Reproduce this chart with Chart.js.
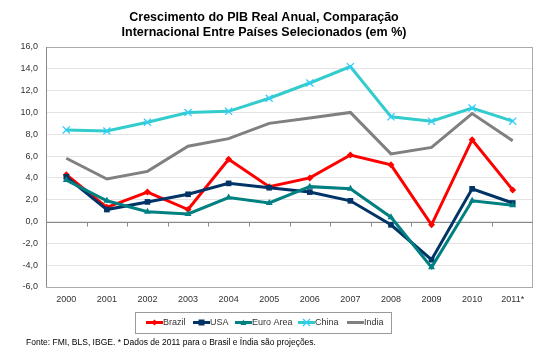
<!DOCTYPE html>
<html>
<head>
<meta charset="utf-8">
<script src="https://cdn.jsdelivr.net/npm/chart.js@4/dist/chart.umd.min.js"></script>
<style>
  html, body { margin: 0; padding: 0; background: #fff; }
  #wrap { position: relative; width: 550px; height: 360px; }
</style>
</head>
<body>
<div id="wrap"><canvas id="gdpChart" width="550" height="360"></canvas></div>
<script>
// data (real GDP growth, %)
const years = ['2000', '2001', '2002', '2003', '2004', '2005', '2006', '2007', '2008', '2009', '2010', '2011*'];
const brazil = [4.3, 1.3, 2.7, 1.1, 5.7, 3.2, 4.0, 6.1, 5.2, -0.3, 7.5, 2.9];
const usa = [4.1, 1.1, 1.8, 2.5, 3.5, 3.1, 2.7, 1.9, -0.3, -3.5, 3.0, 1.7];
const euroArea = [3.8, 1.9, 0.9, 0.7, 2.2, 1.7, 3.2, 3.0, 0.4, -4.2, 1.9, 1.5];
const china = [8.4, 8.3, 9.1, 10.0, 10.1, 11.3, 12.7, 14.2, 9.6, 9.2, 10.4, 9.2];
const india = [5.8, 3.9, 4.6, 6.9, 7.6, 9.0, 9.5, 10.0, 6.2, 6.8, 9.9, 7.4];

const titleLines = ['Crescimento do PIB Real Anual, Comparação', 'Internacional Entre Países Selecionados (em %)'];
const footnote = 'Fonte: FMI, BLS, IBGE. * Dados de 2011 para o Brasil e Índia são projeções.';

const FONT = '"Liberation Sans", Arial, sans-serif';

function drawMarker(ctx, style, x, y, r, fill, stroke) {
  ctx.save();
  ctx.fillStyle = fill;
  ctx.strokeStyle = stroke;
  ctx.beginPath();
  if (style === 'rectRot') {
    ctx.moveTo(x, y - r); ctx.lineTo(x + r, y); ctx.lineTo(x, y + r); ctx.lineTo(x - r, y);
    ctx.closePath(); ctx.fill();
  } else if (style === 'rect') {
    ctx.rect(x - r, y - r, 2 * r, 2 * r); ctx.fill();
  } else if (style === 'triangle') {
    ctx.moveTo(x, y - r); ctx.lineTo(x + r, y + r * 0.8); ctx.lineTo(x - r, y + r * 0.8);
    ctx.closePath(); ctx.fill();
  } else if (style === 'crossRot') {
    ctx.lineWidth = 1.3;
    ctx.moveTo(x - r, y - r); ctx.lineTo(x + r, y + r);
    ctx.moveTo(x + r, y - r); ctx.lineTo(x - r, y + r);
    ctx.stroke();
  }
  ctx.restore();
}

// frame, zero line and the little category ticks on it
const framePlugin = {
  id: 'frame',
  beforeDatasetsDraw(chart) {
    const { ctx, chartArea: a, scales } = chart;
    ctx.save();
    ctx.strokeStyle = '#ABABAB';
    ctx.lineWidth = 1;
    ctx.strokeRect(a.left + 0.5, a.top + 0.5, a.right - a.left - 1, a.bottom - a.top);
    ctx.strokeStyle = '#8A8A8A';
    ctx.beginPath();
    ctx.moveTo(a.left + 0.5, a.top); ctx.lineTo(a.left + 0.5, a.bottom);
    const y0 = Math.round(scales.y.getPixelForValue(0)) + 0.5;
    ctx.moveTo(a.left, y0); ctx.lineTo(a.right, y0);
    const step = (a.right - a.left) / years.length;
    for (let i = 1; i < years.length; i++) {
      const x = Math.round(a.left + i * step) + 0.5;
      ctx.moveTo(x, y0); ctx.lineTo(x, y0 + 4);
    }
    ctx.stroke();
    ctx.restore();
  }
};

// title, legend box and source note
const textPlugin = {
  id: 'texts',
  afterDraw(chart) {
    const ctx = chart.ctx;
    ctx.save();
    ctx.fillStyle = '#000';
    ctx.font = 'bold 12.5px ' + FONT;
    ctx.textAlign = 'center';
    ctx.textBaseline = 'alphabetic';
    ctx.fillText(titleLines[0], 264, 21);
    ctx.fillText(titleLines[1], 264, 36);

    // legend
    ctx.strokeStyle = '#9A9A9A';
    ctx.lineWidth = 1;
    ctx.strokeRect(135.5, 312.5, 256, 21);
    ctx.font = '9px ' + FONT;
    ctx.textAlign = 'left';
    ctx.textBaseline = 'middle';
    const lineStarts = [146, 193, 235, 298, 347];
    chart.data.datasets.forEach((ds, i) => {
      const x = lineStarts[i], y = 322.5;
      ctx.strokeStyle = ds.borderColor;
      ctx.lineWidth = 3;
      ctx.beginPath(); ctx.moveTo(x, y); ctx.lineTo(x + 17, y); ctx.stroke();
      if (ds.pointRadius > 0) {
        drawMarker(ctx, ds.pointStyle, x + 8.5, y, ds.pointStyle === 'crossRot' ? 3.5 : 3,
          ds.pointBackgroundColor, ds.pointBorderColor);
      }
      ctx.fillStyle = '#333';
      ctx.fillText(ds.label, x + 17, y + 0.5);
    });

    ctx.fillStyle = '#000';
    ctx.font = '8.5px ' + FONT;
    ctx.fillText(footnote, 26, 343);
    ctx.restore();
  }
};

function series(label, data, color, style, radius, order, markerColor) {
  return {
    label, data, order,
    borderColor: color,
    backgroundColor: color,
    borderWidth: 3,
    tension: 0,
    pointStyle: style,
    pointRadius: radius,
    pointHoverRadius: radius,
    pointBackgroundColor: markerColor || color,
    pointBorderColor: markerColor || color,
    pointBorderWidth: style === 'crossRot' ? 1.3 : 0
  };
}

new Chart(document.getElementById('gdpChart'), {
  type: 'line',
  data: {
    labels: years,
    datasets: [
      series('Brazil', brazil, '#FF0000', 'rectRot', 3.5, 5),
      series('USA', usa, '#003366', 'rect', 4, 4),
      series('Euro Area', euroArea, '#008080', 'triangle', 4, 3),
      series('China', china, '#33CCCC', 'crossRot', 5, 2, '#33CCFF'),
      series('India', india, '#808080', 'circle', 0, 1)
    ]
  },
  options: {
    responsive: false,
    animation: false,
    events: [],
    layout: { padding: { left: 0, top: 47, right: 17, bottom: 43 } },
    plugins: {
      legend: { display: false },
      title: { display: false },
      tooltip: { enabled: false }
    },
    scales: {
      x: {
        offset: true,
        grid: { display: false, drawTicks: false, tickLength: 0 },
        border: { display: false },
        ticks: { color: '#333', font: { family: FONT, size: 9 }, padding: 7, maxRotation: 0 },
        afterFit(scale) { scale.height = 30; }
      },
      y: {
        min: -6,
        max: 16,
        grid: { color: '#E4E4E4', drawTicks: false },
        border: { display: false },
        ticks: {
          stepSize: 2,
          padding: 8,
          color: '#333',
          font: { family: FONT, size: 9 },
          callback: v => v.toFixed(1).replace('.', ',')
        },
        afterFit(scale) { scale.width = 46; }
      }
    }
  },
  plugins: [framePlugin, textPlugin]
});
</script>
</body>
</html>
